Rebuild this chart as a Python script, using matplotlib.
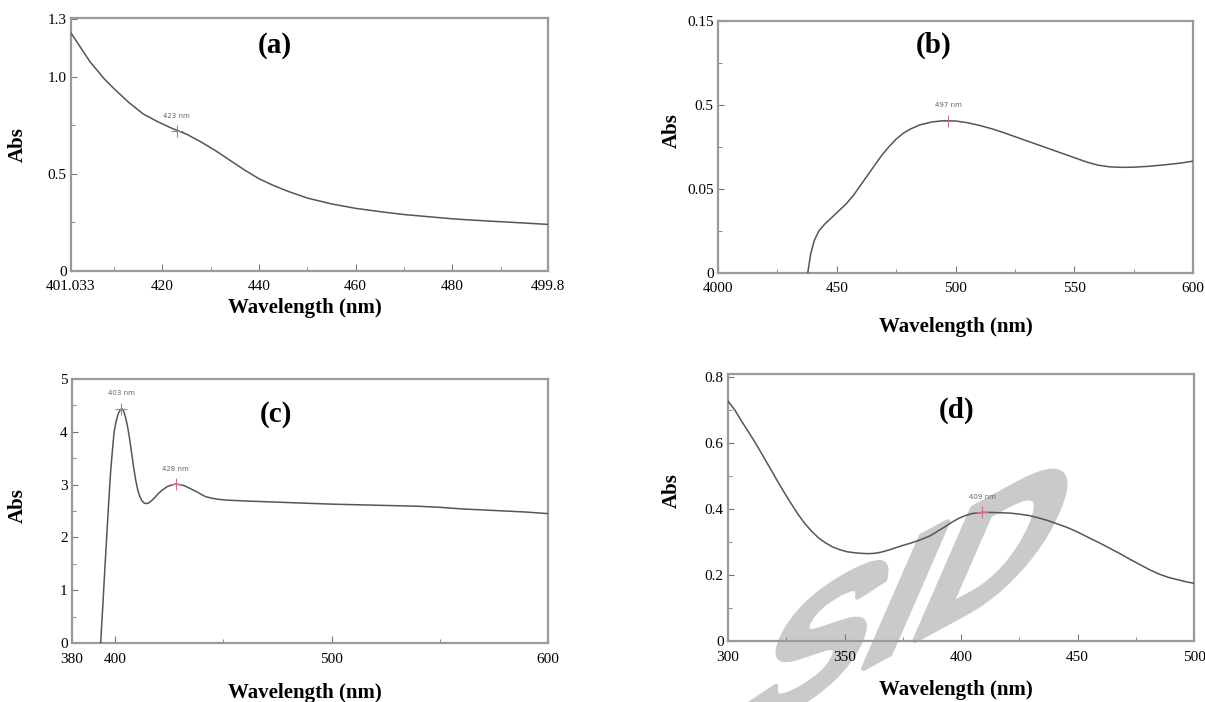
import matplotlib
matplotlib.use("Agg")
import matplotlib.pyplot as plt
from matplotlib.textpath import TextPath
from matplotlib.font_manager import FontProperties
from matplotlib.patches import PathPatch
from matplotlib.transforms import Affine2D

plt.rcParams['font.family'] = ['Liberation Serif', 'DejaVu Serif']

# ---------------- data ----------------
wl_a = [401.033, 405, 408, 410, 413, 416, 419, 422, 425, 428, 431, 434, 437, 440, 443, 446,
        450, 455, 460, 465, 470, 475, 480, 485, 490, 495, 499.8]
abs_a = [1.23, 1.08, 0.99, 0.94, 0.87, 0.81, 0.77, 0.735, 0.705, 0.665, 0.62, 0.57, 0.52,
         0.475, 0.44, 0.41, 0.375, 0.345, 0.322, 0.305, 0.29, 0.279, 0.268, 0.26, 0.253,
         0.246, 0.239]

wl_b = [436.5, 437.8, 439, 440.5, 442.5, 445, 448, 451, 454, 457, 460, 463, 466, 469, 472,
        475, 478, 481, 485, 490, 495, 500, 505, 510, 515, 520, 525, 530, 535, 540, 545, 550,
        555, 560, 565, 570, 575, 580, 585, 590, 595, 600]
abs_b = [-0.01, 0.0, 0.011, 0.019, 0.025, 0.029, 0.033, 0.037, 0.041, 0.046, 0.052, 0.058,
         0.064, 0.07, 0.075, 0.0795, 0.083, 0.0855, 0.088, 0.0897, 0.0905, 0.0903, 0.0893,
         0.0877, 0.0858, 0.0835, 0.081, 0.0785, 0.076, 0.0735, 0.071, 0.0685, 0.066, 0.064,
         0.063, 0.0627, 0.0628, 0.0632, 0.0638, 0.0645, 0.0653, 0.0664]

wl_c = [393.0, 393.8, 394.5, 395.3, 396.1, 397.0, 397.9, 398.8, 399.6, 400.5, 401.4, 402.3,
        403.2, 404.0, 404.9, 405.8, 406.7, 407.6, 408.5, 409.5, 410.5, 411.5, 412.5, 413.5,
        414.5, 415.5, 417, 418.5, 420, 422, 424, 426, 428, 430, 432, 434, 436, 438, 440, 442,
        445, 448, 452, 460, 470, 480, 490, 500, 510, 520, 530, 540, 550, 560, 570, 580, 590,
        600]
abs_c = [-0.3, 0.3, 0.8, 1.4, 1.96, 2.6, 3.2, 3.65, 4.0, 4.2, 4.33, 4.41, 4.44, 4.39, 4.27,
         4.1, 3.88, 3.62, 3.36, 3.1, 2.9, 2.77, 2.69, 2.65, 2.64, 2.65, 2.7, 2.76, 2.83, 2.9,
         2.96, 2.99, 3.01, 3.0, 2.98, 2.94, 2.9, 2.86, 2.81, 2.77, 2.74, 2.72, 2.705, 2.69,
         2.675, 2.66, 2.645, 2.63, 2.62, 2.61, 2.6, 2.59, 2.57, 2.54, 2.52, 2.5, 2.48, 2.45]

wl_d = [300, 303, 306, 309, 312, 315, 318, 321, 324, 327, 330, 333, 336, 339, 342, 345, 348,
        351, 354, 357, 360, 363, 366, 369, 372, 375, 378, 381, 384, 387, 390, 393, 396, 399,
        402, 405, 409, 413, 417, 421, 425, 429, 433, 437, 441, 445, 449, 453, 457, 461, 465,
        469, 473, 477, 481, 485, 489, 493, 497, 500]
abs_d = [0.728, 0.70, 0.665, 0.632, 0.598, 0.562, 0.525, 0.488, 0.452, 0.418, 0.385, 0.356,
         0.332, 0.312, 0.297, 0.285, 0.277, 0.271, 0.268, 0.266, 0.265, 0.266, 0.27, 0.276,
         0.283, 0.29, 0.296, 0.303, 0.311, 0.32, 0.333, 0.346, 0.36, 0.372, 0.381, 0.387,
         0.39, 0.39, 0.389, 0.388, 0.385, 0.381, 0.374, 0.366, 0.356, 0.346, 0.334, 0.32,
         0.306, 0.292, 0.277, 0.262, 0.246, 0.231, 0.216, 0.203, 0.193, 0.186, 0.179, 0.175]

peaks_a = [(423, 0.72)]
peaks_b = [(497, 0.0905)]
peaks_c = [(403, 4.44), (428, 3.01)]
peaks_d = [(409, 0.39)]

xticks_a = [401.033, 420, 440, 460, 480, 499.8]
xticklabels_a = ["401.033", "420", "440", "460", "480", "499.8"]
yticks_a = [0, 0.5, 1.0, 1.3]
yticklabels_a = ["0", "0.5", "1.0", "1.3"]

xticks_b = [400, 450, 500, 550, 600]
xticklabels_b = ["4000", "450", "500", "550", "600"]
yticks_b = [0, 0.05, 0.10, 0.15]
yticklabels_b = ["0", "0.05", "0.5", "0.15"]

xticks_c = [380, 400, 500, 600]
xticklabels_c = ["380", "400", "500", "600"]
yticks_c = [0, 1, 2, 3, 4, 5]
yticklabels_c = ["0", "1", "2", "3", "4", "5"]

xticks_d = [300, 350, 400, 450, 500]
xticklabels_d = ["300", "350", "400", "450", "500"]
yticks_d = [0, 0.2, 0.4, 0.6, 0.8]
yticklabels_d = ["0", "0.2", "0.4", "0.6", "0.8"]

# ---------------- figure ----------------
W, H = 1205, 702
fig = plt.figure(figsize=(W / 100, H / 100), dpi=100)
fig.patch.set_facecolor('white')

def px_axes(l, r, t, b):
    ax = fig.add_axes([l / W, 1 - b / H, (r - l) / W, (b - t) / H])
    ax.set_facecolor('none')
    return ax

SPINE = '#9a9a9a'
LINE = '#555555'

def style(ax, x, y, xlim, ylim, xt, xtl, yt, ytl, xminor, yminor, peaks,
          panel, ppos, ylab_pos, xlab_pos):
    ax.plot(x, y, color=LINE, lw=1.1, zorder=3, solid_joinstyle='round')
    ax.set_xlim(*xlim)
    ax.set_ylim(*ylim)
    ax.set_xticks(xt)
    ax.set_xticklabels(xtl)
    ax.set_yticks(yt)
    ax.set_yticklabels(ytl)
    ax.set_xticks(xminor, minor=True)
    ax.set_yticks(yminor, minor=True)
    for s in ax.spines.values():
        s.set_color(SPINE)
        s.set_linewidth(1.6)
    ax.tick_params(which='both', direction='in', colors='#777777', labelcolor='black',
                   labelsize=11)
    ax.tick_params(axis='x', which='major', length=5, pad=7)
    ax.tick_params(axis='y', which='major', length=4, pad=3)
    ax.tick_params(which='minor', length=3)
    for px, py in peaks:
        ax.plot([px], [py], marker='+', color='#cc7080', ms=9, mew=0.8, zorder=4)
        ax.annotate(f"{px} nm", (px, py), xytext=(0, 9), textcoords='offset points',
                    ha='center', va='bottom', fontsize=5, color='#666666',
                    family='DejaVu Sans')
    ax.text(ppos[0], ppos[1], panel, transform=ax.transAxes, ha='center', va='center',
            fontsize=21, fontweight='bold')
    ax.set_ylabel('Abs', fontsize=15, fontweight='bold')
    ax.set_xlabel('Wavelength (nm)', fontsize=15, fontweight='bold')
    ax.yaxis.set_label_coords(*ylab_pos)
    ax.xaxis.set_label_coords(*xlab_pos)

ax_a = px_axes(70.7, 548, 18, 270.7)
style(ax_a, wl_a, abs_a, (401.033, 499.8), (0, 1.305), xticks_a, xticklabels_a,
      yticks_a, yticklabels_a, [410, 430, 450, 470, 490], [0.25, 0.75], peaks_a,
      '(a)', (0.428, 0.893), (-0.09, 0.5), (0.49, -0.108))

ax_b = px_axes(718, 1193, 20.7, 272.7)
style(ax_b, wl_b, abs_b, (400, 600), (0, 0.15), xticks_b, xticklabels_b,
      yticks_b, yticklabels_b, [425, 475, 525, 575], [0.025, 0.075, 0.125], peaks_b,
      '(b)', (0.453, 0.904), (-0.076, 0.566), (0.5, -0.176))

ax_c = px_axes(71.7, 548, 379, 643)
style(ax_c, wl_c, abs_c, (380, 600), (0, 5), xticks_c, xticklabels_c,
      yticks_c, yticklabels_c, [450, 550], [0.5, 1.5, 2.5, 3.5, 4.5], peaks_c,
      '(c)', (0.428, 0.864), (-0.092, 0.52), (0.49, -0.152))

ax_d = px_axes(728, 1194, 374, 641)
style(ax_d, wl_d, abs_d, (300, 500), (0, 0.81), xticks_d, xticklabels_d,
      yticks_d, yticklabels_d, [325, 375, 425, 475], [0.1, 0.3, 0.5, 0.7], peaks_d,
      '(d)', (0.491, 0.865), (-0.099, 0.565), (0.49, -0.146))

# watermark (sheared "SID" drawn behind the axes content)
em = 210.0
tp = TextPath((0, 0), "SID", size=1,
              prop=FontProperties(family='Liberation Sans', weight='bold'))
bx, by = 0.879 * em, 0.477 * em      # baseline direction (display px)
ux, uy = 0.40 * em, 0.917 * em       # letter-up direction (display px)
ox, oy = 728.0, H - 742.0            # baseline origin (display px)
trans = Affine2D.from_values(bx, by, ux, uy, ox, oy)
wm = PathPatch(tp, transform=trans, facecolor='#cacaca', edgecolor='#cacaca',
               linewidth=3.5, joinstyle='round', zorder=-1)
fig.add_artist(wm)

fig.savefig('out.png', dpi=100)
